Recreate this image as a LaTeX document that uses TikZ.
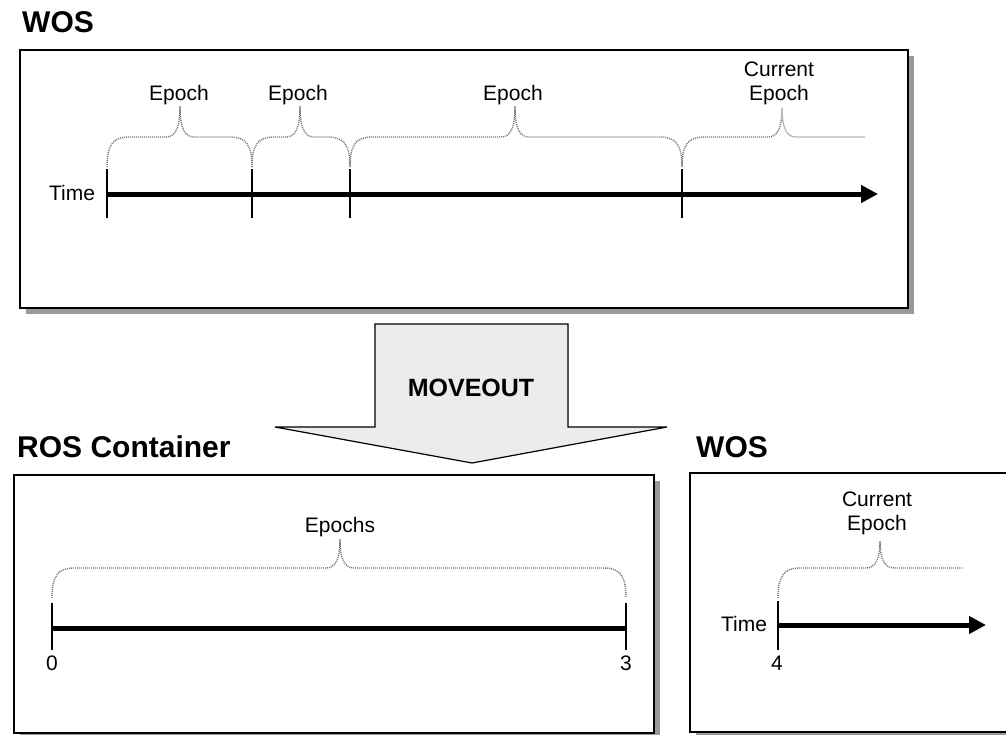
\documentclass[tikz,border=0pt]{standalone}
\usepackage{fontspec}
\setmainfont{Liberation Sans}
\usetikzlibrary{arrows.meta}

% dotted curly brace: x0, tip x, x1, y of ends, y of flat part, y of tip
\newcommand{\epochbrace}[6]{%
  \draw[bracestyle] (#1,#4) .. controls (#1,#5+8) and (#1+6,#5) .. (#1+22,#5)
    -- (#2-14,#5) .. controls (#2-5,#5) and (#2,#5-8) .. (#2,#6)
    .. controls (#2,#5-8) and (#2+5,#5) .. (#2+14,#5)
    -- (#3-22,#5) .. controls (#3-6,#5) and (#3,#5+8) .. (#3,#4);}

\begin{document}
\begin{tikzpicture}[x=1pt, y=-1pt,
    bracestyle/.style={gray!90!black, line width=1.4pt, dash pattern=on 1pt off 1pt},
    axis/.style={line width=5pt, -{Triangle[length=17pt,width=17pt]}},
    plainaxis/.style={line width=5pt},
    tick/.style={line width=1.6pt},
    frame/.style={draw=black, line width=1.5pt, fill=white},
    shadow/.style={fill=gray!80},
    lbl/.style={font=\fontsize{21}{24}\selectfont, inner sep=0pt, align=center},
    heading/.style={font=\fontsize{30}{34}\selectfont\bfseries, inner sep=0pt, anchor=west}]
    \useasboundingbox (0,0) rectangle (1006,734);
    \clip (0,0) rectangle (1006,734);

    % Upper WOS
    \node[heading] (wosA) at (22,22) {WOS};
    \fill[shadow] (26,56) rectangle (914,314);
    \draw[frame] (20,50) rectangle (908,308);

    \coordinate (a0) at (107,194);
    \coordinate (aend) at (878,194);
    \foreach \x in {107,252,350,682} {
        \draw[tick] (\x,169) -- (\x,218);
    }
    \draw[axis] (a0) -- (aend);
    \node[lbl] (timeA) at (72,193) {Time};

    \epochbrace{107}{180}{252}{167}{137}{106}
    \epochbrace{252}{300}{350}{167}{137}{106}
    \epochbrace{350}{515}{682}{167}{137}{106}
    \draw[bracestyle] (682,167) .. controls (682,145) and (688,137) .. (704,137)
        -- (768,137) .. controls (777,137) and (782,129) .. (782,108);
    \draw[gray!55, line width=1.3pt] (782,108) .. controls (782,129) and (787,137) .. (796,137) -- (865,137);

    \node[lbl] (epA) at (179,95) {Epoch};
    \node[lbl] (epB) at (298,95) {Epoch};
    \node[lbl] (epC) at (513,95) {Epoch};
    \node[lbl] (curA) at (779,83) {Current\\Epoch};

    % Moveout arrow
    \draw[fill=gray!15, line width=1.2pt] (375,324) -- (568,324) -- (568,427) -- (667,427)
        -- (472,463) -- (275,427) -- (375,427) -- cycle;
    \node[font=\fontsize{25}{28}\selectfont\bfseries, inner sep=0pt] (move) at (471,388) {MOVEOUT};

    % ROS container
    \node[heading] (ros) at (17,447) {ROS Container};
    \fill[shadow] (20,481) rectangle (660,740);
    \draw[frame] (14,475) rectangle (654,733);
    \coordinate (r0) at (52,628);
    \coordinate (r3) at (626,628);
    \draw[tick] (52,603) -- (52,650);
    \draw[tick] (626,603) -- (626,650);
    \draw[plainaxis] (r0) -- (r3);
    \node[lbl] (zero) at (52,663) {0};
    \node[lbl] (three) at (626,663) {3};
    \epochbrace{52}{340}{626}{598}{568}{539}
    \node[lbl] (eps) at (340,527) {Epochs};

    % Lower WOS
    \node[heading] (wosB) at (696,447) {WOS};
    \fill[shadow] (696,479) rectangle (1020,740);
    \draw[frame] (690,473) rectangle (1016,732);
    \coordinate (b0) at (778,625);
    \coordinate (bend) at (986,625);
    \draw[tick] (778,601) -- (778,650);
    \draw[axis] (b0) -- (bend);
    \node[lbl] (timeB) at (744,624) {Time};
    \node[lbl] (four) at (777,663) {4};
    \draw[bracestyle] (778,598) .. controls (778,576) and (784,568) .. (800,568)
        -- (866,568) .. controls (875,568) and (880,560) .. (880,541)
        .. controls (880,560) and (885,568) .. (894,568) -- (963,568);
    \node[lbl] (curB) at (877,513) {Current\\Epoch};
\end{tikzpicture}
\end{document}
